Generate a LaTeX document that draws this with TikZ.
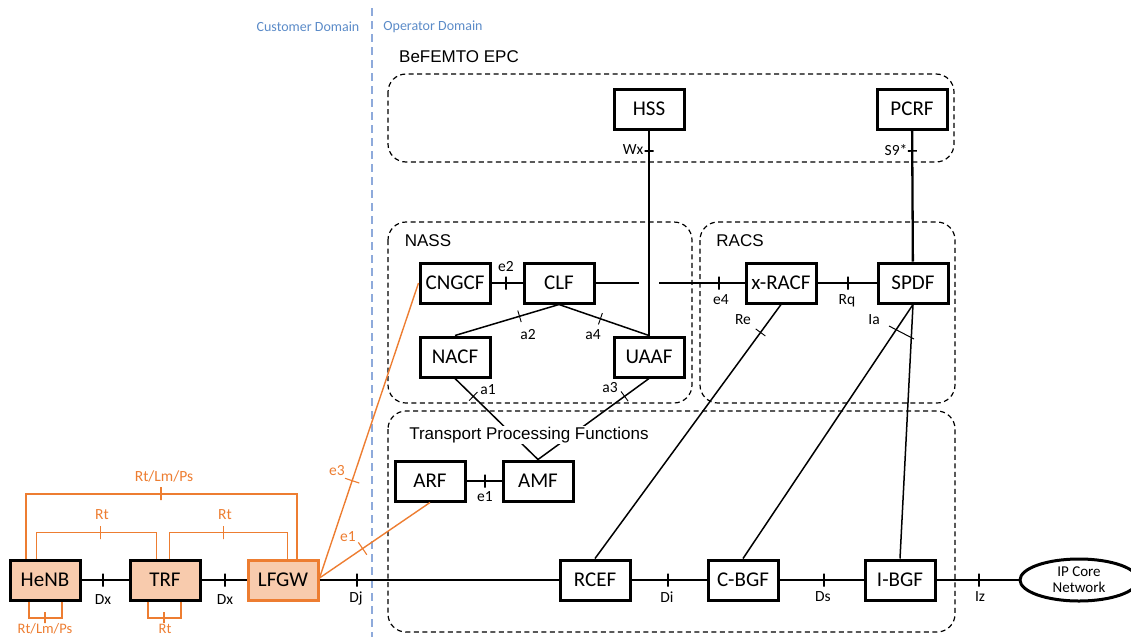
\documentclass[tikz,border=0pt]{standalone}
\usepackage{fontspec}
\setmainfont{Carlito}
\newfontfamily\arialf{Liberation Sans}
\usetikzlibrary{calc,shapes.geometric}
\definecolor{orgL}{HTML}{ED7D31}
\definecolor{orgF}{HTML}{F8CBAD}
\definecolor{bluL}{HTML}{8EAADB}
\definecolor{bluT}{HTML}{5B8BC8}
\begin{document}
\begin{tikzpicture}[x=1pt,y=-1pt,
  box/.style={draw, line width=3pt, minimum width=70pt, minimum height=40pt, inner sep=0pt, font=\fontsize{21}{23}\selectfont},
  grp/.style={draw, dash pattern=on 5pt off 3.5pt, line width=1.2pt, rounded corners=18pt},
  ttl/.style={font=\arialf\fontsize{17}{19}\selectfont, inner sep=1pt},
  lab/.style={font=\fontsize{15.5}{16}\selectfont, inner sep=0pt},
  olab/.style={lab, text=orgL},
  dom/.style={font=\fontsize{14}{15}\selectfont, text=bluT, inner sep=0pt},
  conn/.style={line width=2.3pt},
  thinc/.style={line width=1.5pt},
  tk/.style={draw, line width=2pt, minimum width=0pt, minimum height=13pt, inner sep=0pt, sloped},
  tks/.style={draw, line width=0.9pt, minimum width=0pt, minimum height=12pt, inner sep=0pt, sloped},
  ol/.style={orgL, line width=1.4pt},
  olk/.style={orgL, line width=2pt},
  otk/.style={tk, draw=orgL, line width=1.8pt},
  otks/.style={tks, draw=orgL, line width=1.1pt, minimum height=15pt}
]
\useasboundingbox (0,0) rectangle (1131,637);

% domain separator
\draw[bluL, line width=1.3pt, dash pattern=on 8pt off 5pt] (372,8) -- (372,637);
\node[dom] (cd) at (308,27) {Customer Domain};
\node[dom] (od) at (433,27) {Operator Domain};

% groups
\draw[grp] (388,74) rectangle (954,162);
\draw[grp] (388,222) rectangle (692,403);
\draw[grp] (700,222) rectangle (955,403);
\draw[grp] (388,411) rectangle (955,632);
\node[ttl] (tEPC) at (459,57) {BeFEMTO EPC};
\node[ttl] (tNASS) at (428,241) {NASS};
\node[ttl] (tRACS) at (740,241) {RACS};

% nodes
\node[box, fill=orgF] (HeNB) at (45,580) {HeNB};
\node[box, fill=orgF] (TRF) at (165,580) {TRF};
\node[box, fill=orgF, draw=orgL] (LFGW) at (283,580) {LFGW};
\node[box] (HSS) at (649,109) {HSS};
\node[box] (PCRF) at (912,109) {PCRF};
\node[box] (CNGCF) at (455,283) {CNGCF};
\node[box] (CLF) at (559,283) {CLF};
\node[box] (NACF) at (455,357) {NACF};
\node[box] (UAAF) at (649,357) {UAAF};
\node[box] (xRACF) at (781,283) {x-RACF};
\node[box] (SPDF) at (913,283) {SPDF};
\node[box] (ARF) at (430,481) {ARF};
\node[box] (AMF) at (538,481) {AMF};
\node[box] (RCEF) at (595,580) {RCEF};
\node[box] (CBGF) at (743,580) {C-BGF};
\node[box] (IBGF) at (900,580) {I-BGF};
\node[draw, ellipse, line width=3pt, minimum width=118pt, minimum height=42pt, inner sep=0pt, align=center, font=\fontsize{15}{16}\selectfont] (IP) at (1079,580) {IP Core\\Network};

% data path
\draw[conn] (HeNB) -- node[tk,pos=.45]{} (TRF);
\draw[conn] (TRF) -- node[tk,pos=.52]{} (LFGW);
\draw[conn] (LFGW) -- node[tk,pos=.157]{} (RCEF);
\draw[conn] (RCEF) -- node[tk,pos=.49]{} (CBGF);
\draw[conn] (CBGF) -- node[tk,pos=.53]{} (IBGF);
\draw[conn] (IBGF) -- node[tk,pos=.52]{} (IP);
\node[lab] (lDx1) at (103,600) {Dx};
\node[lab] (lDx2) at (225,600) {Dx};
\node[lab] (lDj) at (356,598) {Dj};
\node[lab] (lDi) at (667,597) {Di};
\node[lab] (lDs) at (823,597) {Ds};
\node[lab] (lIz) at (980,597) {Iz};

% control plane
\draw[conn] (HSS) -- node[tk, pos=.10, minimum height=9pt, line width=1.6pt]{} (UAAF);
\draw[conn] (PCRF) -- node[tk, pos=.156, minimum height=9pt, line width=1.6pt]{} (SPDF);
\node[lab] (lWx) at (633,150) {Wx};
\node[lab] (lS9) at (896,150) {S9*};
\draw[conn] (CNGCF) -- node[tk,pos=.48]{} (CLF);
\node[lab] (le2) at (506,267) {e2};
\draw[conn] (CLF) -- ($(CLF.east -| HSS.south)+(-10,0)$)
            ($(CLF.east -| HSS.south)+(10,0)$) -- node[tk,pos=.70]{} (xRACF);
\node[lab] (le4) at (721,300) {e4};
\draw[conn] (xRACF) -- node[tk,pos=.51]{} (SPDF);
\node[lab] (lRq) at (847,301) {Rq};
\draw[thinc] (CLF.south) -- node[tks,pos=.38]{} (NACF.north);
\draw[thinc] (CLF.south) -- node[tks,pos=.46]{} (UAAF.north);
\node[lab] (la2) at (528,335) {a2};
\node[lab] (la4) at (593,335) {a4};
\draw[thinc] (NACF.south) -- node[tks,pos=.22]{} (AMF.north);
\draw[thinc] (UAAF.south) -- node[tks,pos=.22]{} (AMF.north);
\node[lab] (la1) at (488,390) {a1};
\node[lab] (la3) at (610,388) {a3};
\draw[conn] (ARF) -- node[tk,pos=.53]{} (AMF);
\node[lab] (le1) at (485,497) {e1};
\draw[thinc] (xRACF.south) -- node[tks,pos=.11]{} (RCEF.north);
\node[lab] (lRe) at (743,320) {Re};
\draw[thinc] (SPDF.south) -- (CBGF.north);
\draw[thinc] (SPDF.south) -- (IBGF.north);
\draw[line width=1pt] (889,326) -- (914,339);
\node[lab] (lIa) at (874,320) {Ia};
\node[ttl, fill=white] (tTPF) at (529,435) {Transport Processing Functions};

% orange (customer) interfaces
\draw[olk] ($(HeNB.north west)+(17,0)$) -- ++(0,-65) -| node[otk,pos=.25]{} ($(LFGW.north west)+(50,0)$);
\draw[ol] ($(HeNB.north west)+(28,0)$) -- ++(0,-26) -| node[otk,pos=.267]{} ($(TRF.north west)+(28,0)$);
\draw[ol] ($(TRF.north west)+(41,0)$) -- ++(0,-26) -| node[otk,pos=.229]{} ($(LFGW.north west)+(41,0)$);
\draw[olk] ($(HeNB.south west)+(20,0)$) -- ++(0,16) -| node[otk,pos=.25,minimum height=11pt]{} ($(HeNB.south west)+(53,0)$);
\draw[olk] ($(TRF.south west)+(19,0)$) -- ++(0,16) -| node[otk,pos=.25,minimum height=11pt]{} ($(TRF.south west)+(52,0)$);
\node[olab] (oRLP1) at (164,476) {Rt/Lm/Ps};
\node[olab] (oRt1) at (102,515) {Rt};
\node[olab] (oRt2) at (225,515) {Rt};
\node[olab, font=\fontsize{14.5}{15}\selectfont] (oRLP2) at (45,629) {Rt/Lm/Ps};
\node[olab, font=\fontsize{14.5}{15}\selectfont] (oRt3) at (165,629) {Rt};
\draw[ol] ($(LFGW.east)+(0,-2)$) -- node[otks,pos=.33]{} (CNGCF.west);
\draw[ol] ($(LFGW.east)+(0,-2)$) -- node[otks,pos=.39]{} (ARF.south);
\node[olab] (oe3) at (337,471) {e3};
\node[olab] (oe1) at (348,537) {e1};
\end{tikzpicture}
\end{document}
